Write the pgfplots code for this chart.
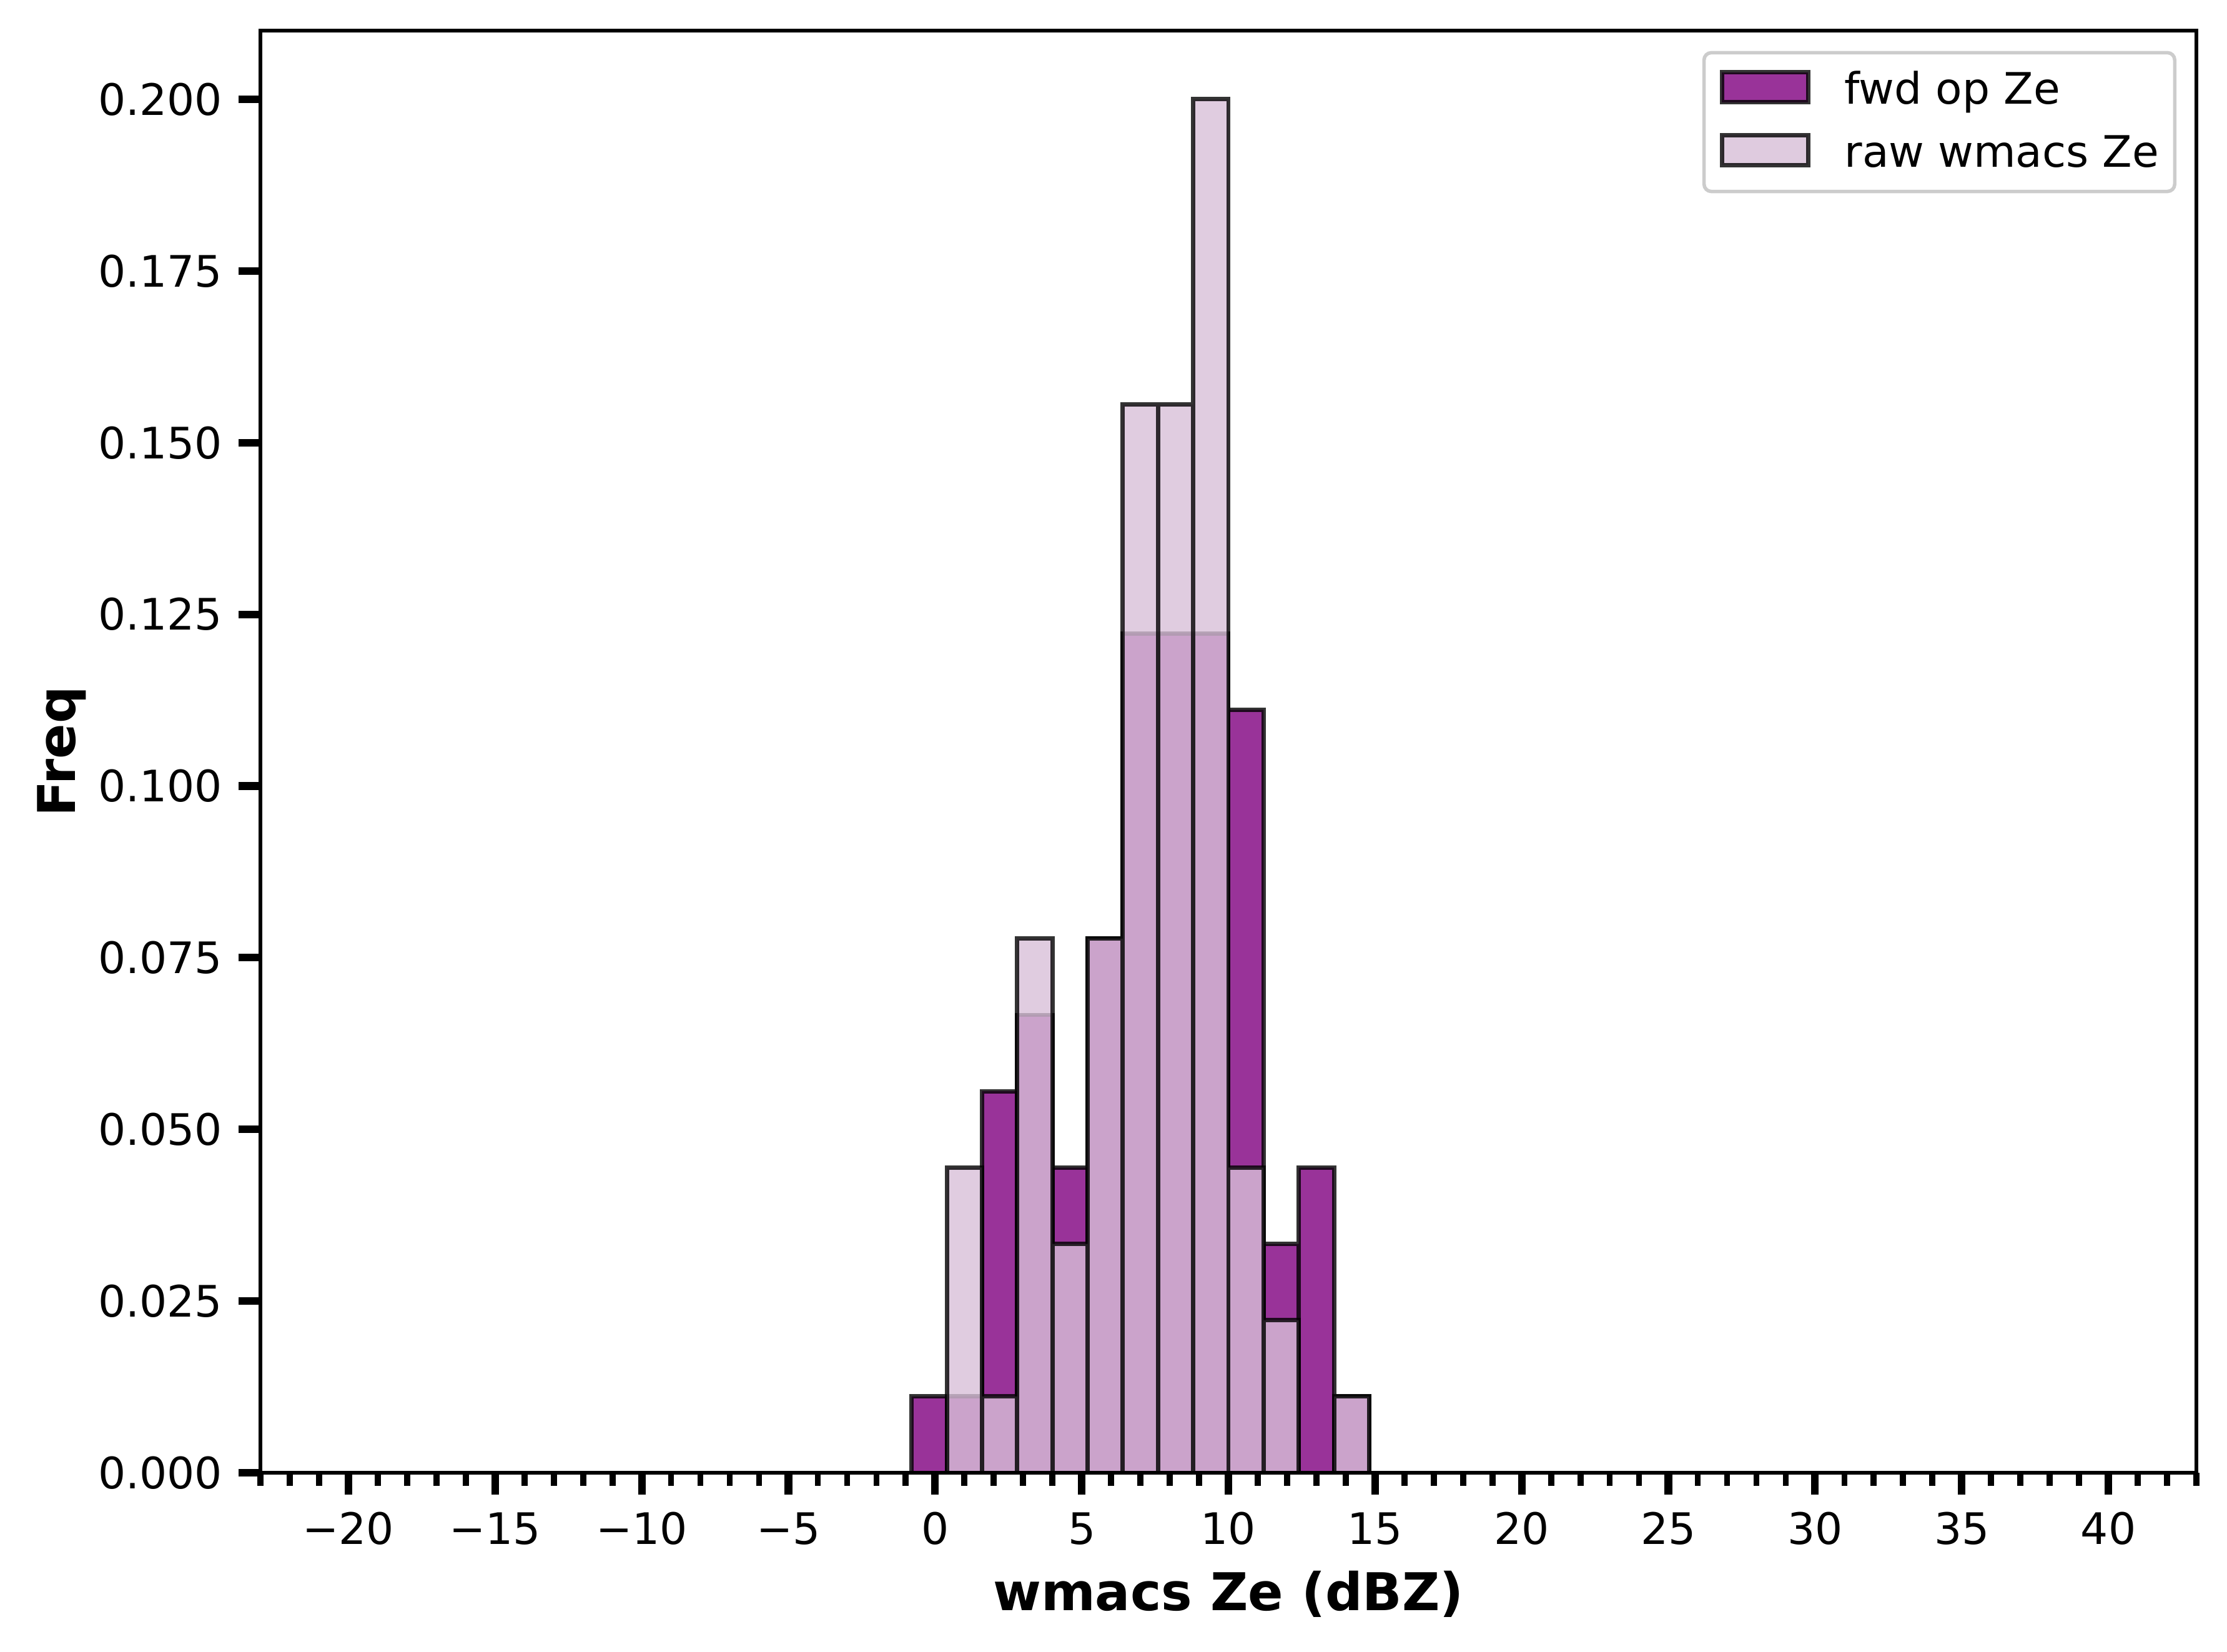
\documentclass[border=0pt]{standalone}
\usepackage{fontspec}
\setmainfont{DejaVu Sans}
\usepackage{pgfplots}
\pgfplotsset{compat=1.18}
\definecolor{fwdc}{RGB}{128,0,128}
\definecolor{rawc}{RGB}{216,191,216}
\definecolor{legframe}{RGB}{204,204,204}
\pgfplotsset{mylegimg/.style={legend image code/.code={\draw[##1, sharp corners] (0.5pt,-2.5pt) rectangle (20.4pt,4.4pt);}}}
\begin{document}
\begin{tikzpicture}
\begin{axis}[
  at={(0,0)}, anchor=south west,
  scale only axis,
  width=446.4pt, height=332.5pt,
  xmin=-23, xmax=43, ymin=0, ymax=0.21,
  axis on top,
  axis line style={line width=0.8pt, black},
  tick align=outside,
  xtick pos=lower, ytick pos=left,
  xtick={-20,-15,-10,-5,0,5,10,15,20,25,30,35,40},
  xticklabels={−20,−15,−10,−5,0,5,10,15,20,25,30,35,40},
  minor xtick={-23,-22,...,43},
  ytick={0,0.025,0.05,0.075,0.1,0.125,0.15,0.175,0.2},
  yticklabels={0.000,0.025,0.050,0.075,0.100,0.125,0.150,0.175,0.200},
  major tick length=5pt, minor tick length=3pt,
  major tick style={line width=1.75pt, black},
  minor tick style={line width=1.4pt, black},
  xticklabel style={font=\fontsize{10}{12}\selectfont, anchor=base, inner sep=0pt, yshift=-11.5pt},
  yticklabel style={font=\fontsize{10}{12}\selectfont, anchor=east, inner sep=0pt, xshift=-3.6pt},
  xlabel={wmacs Ze (dBZ)},
  ylabel={Freq},
  xlabel style={font=\fontsize{12}{14}\selectfont\bfseries, at={(axis description cs:0.5,-0.09534)}, anchor=base, inner sep=0pt},
  ylabel style={font=\fontsize{12}{14}\selectfont\bfseries, at={(axis description cs:-0.09566,0.5)}, anchor=base, inner sep=0pt},
  legend cell align=left,
  legend style={at={(axis description cs:0.9897,0.9859)}, anchor=north east,
    draw=legframe, line width=0.8pt, rounded corners=1.7pt, fill=white,
    inner xsep=3.6pt, inner ysep=4.0pt, row sep=5.0pt,
    font=\fontsize{10}{12}\selectfont,
    nodes={inner sep=0pt, text height=7.6pt, text depth=1.6pt},
    /tikz/every odd column/.append style={column sep=7.9pt}},
]
\addplot[ybar interval, fill=fwdc, draw=black, opacity=0.8, line width=1pt, mylegimg]
  coordinates {(-0.8,0.011111) (0.4,0.011111) (1.6,0.055556) (2.8,0.066667) (4.0,0.044444) (5.2,0.077778) (6.4,0.122222) (7.6,0.122222) (8.8,0.122222) (10.0,0.111111) (11.2,0.033333) (12.4,0.044444) (13.6,0.011111) (14.8,0)};
\addlegendentry{fwd op Ze}
\addplot[ybar interval, fill=rawc, draw=black, opacity=0.8, line width=1pt, mylegimg]
  coordinates {(-0.8,0) (0.4,0.044444) (1.6,0.011111) (2.8,0.077778) (4.0,0.033333) (5.2,0.077778) (6.4,0.155556) (7.6,0.155556) (8.8,0.2) (10.0,0.044444) (11.2,0.022222) (12.4,0) (13.6,0.011111) (14.8,0)};
\addlegendentry{raw wmacs Ze}
\end{axis}
\pgfresetboundingbox
\useasboundingbox (-60.05pt,-41.18pt) rectangle (453.46pt,339.56pt);
\end{tikzpicture}
\end{document}
